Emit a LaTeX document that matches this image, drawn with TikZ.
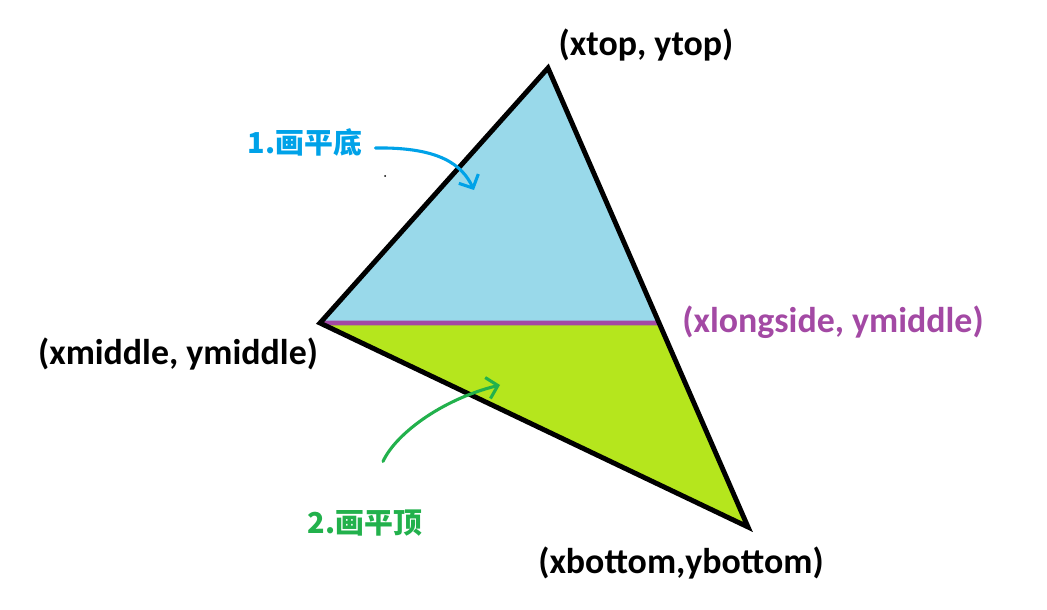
\documentclass[tikz,border=0pt]{standalone}
\usepackage{fontspec}
\setmainfont{Carlito}
\newfontfamily\cjk{Noto Sans CJK SC}
\usetikzlibrary{calc}
\usetikzlibrary{arrows.meta}
\definecolor{fillblue}{RGB}{153,217,234}
\definecolor{filllime}{RGB}{181,230,29}
\definecolor{splitpurple}{RGB}{163,73,164}
\definecolor{noteblue}{RGB}{0,162,232}
\definecolor{notegreen}{RGB}{34,177,76}
\tikzset{
  vertexlbl/.style={font=\bfseries\fontsize{25.5}{29}\selectfont, inner sep=0pt},
  notelbl/.style={font=\cjk\bfseries\fontsize{20.5}{24}\selectfont, inner sep=0pt},
  edge/.style={line width=3.5pt, line join=miter},
  hint/.style={line width=2.2pt, line cap=round, -{Straight Barb[length=2.6mm, width=5.4mm, line width=2.2pt]}}
}

\begin{document}
\begin{tikzpicture}[x=0.025cm, y=-0.025cm]
        \useasboundingbox (0,0) rectangle (1047,610);
        % vertices
        \coordinate (top) at (548,68);
        \coordinate (mid) at (320,323);
        \coordinate (bot) at (748,527);
        \coordinate (long) at ($(top)!0.5556!(bot)$);
        % halves
        \fill[fillblue] (top) -- (mid) -- (long) -- cycle;
        \fill[filllime] (mid) -- (long) -- (bot) -- cycle;
        \draw[splitpurple, line width=3.5pt] (mid) -- (long);
        \draw[edge] (top) -- (mid) -- (bot) -- cycle;
        % labels
        \node[vertexlbl] (toplbl) at (646,45) {(xtop, ytop)};
        \node[vertexlbl] (midlbl) at (178,354) {(xmiddle, ymiddle)};
        \node[vertexlbl, text=splitpurple] (longlbl) at (833,322) {(xlongside, ymiddle)};
        \node[vertexlbl] (botlbl) at (681,563) {(xbottom,ybottom)};
        % notes
        \node[notelbl, text=noteblue] (note1) at (305,142) {1.画平底};
        \node[notelbl, text=notegreen] (note2) at (365,523) {2.画平顶};
        \coordinate (hint1) at (474,190);
        \coordinate (hint2) at (500,385);
        \draw[hint, noteblue] ($(note1.east)+(13,6)$) .. controls (440,147) and (462,165) .. (hint1);
        \draw[hint, notegreen] ($(note2.north)+(18,-48)$) .. controls (395,435) and (440,400) .. (hint2);
        \fill (385,176) circle (1);
\end{tikzpicture}
\end{document}
